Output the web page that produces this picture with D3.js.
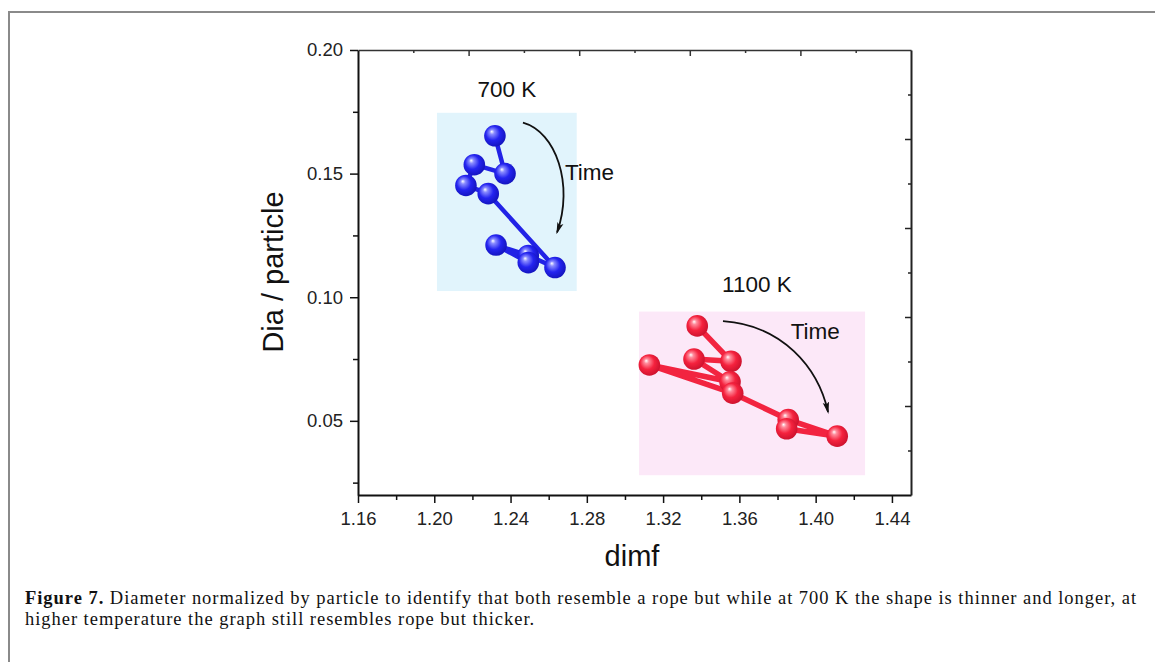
<!DOCTYPE html>
<html>
<head>
<meta charset="utf-8">
<script src="https://cdn.jsdelivr.net/npm/d3@7"></script>
<style>
  body { margin: 0; background: #fff; }
  svg { display: block; }
</style>
</head>
<body>
<div id="chart"></div>
<script>
// dimf vs Dia/particle, two temperatures, points in time order
const blueDimf = [1.2318, 1.2371, 1.2210, 1.2166, 1.2283, 1.2633, 1.2493, 1.2324, 1.2493];
const blueDia  = [0.1653, 0.1500, 0.1536, 0.1452, 0.1419, 0.1120, 0.1169, 0.1211, 0.1140];
const redDimf  = [1.3379, 1.3556, 1.3362, 1.3551, 1.3128, 1.3565, 1.3856, 1.4113, 1.3848];
const redDia   = [0.0884, 0.0741, 0.0750, 0.0658, 0.0726, 0.0612, 0.0505, 0.0438, 0.0468];

const xTicks = [1.16, 1.20, 1.24, 1.28, 1.32, 1.36, 1.40, 1.44];
const xMinor = [1.18, 1.22, 1.26, 1.30, 1.34, 1.38, 1.42];
const yTicks = [0.05, 0.10, 0.15, 0.20];
const yMinor = [0.025, 0.075, 0.125, 0.175];

// shaded boxes [x0, x1, y0, y1]
const blueBox = [1.2014, 1.2747, 0.1025, 0.1746];
const redBox  = [1.3074, 1.4259, 0.0280, 0.0942];

const labels = [
  { t: '700 K',  x: 1.2381, y: 0.1843, anchor: 'middle' },
  { t: '1100 K', x: 1.3692, y: 0.1052, anchor: 'middle' },
  { t: 'Time',   x: 1.2685, y: 0.1508, anchor: 'start' },
  { t: 'Time',   x: 1.3869, y: 0.0864, anchor: 'start' }
];
// curved "Time" arrows: start, ctrl1, ctrl2, end
const arrows = [
  [[1.2465, 0.1706], [1.2638, 0.1669], [1.2733, 0.1456], [1.2644, 0.1262]],
  [[1.3514, 0.0903], [1.3823, 0.0887], [1.4012, 0.0718], [1.4065, 0.0536]]
];

const W = 1155, H = 662;
const SANS = '"Liberation Sans", Arial, sans-serif';
const svg = d3.select('#chart').append('svg').attr('width', W).attr('height', H);

const x = d3.scaleLinear().domain([1.16, 1.45]).range([358, 911]);
const y = d3.scaleLinear().domain([0.02, 0.20]).range([495, 50]);
// frame ticks on top/right aren't tied to the data
const xTop = d3.scaleLinear().domain([0, 5]).range([358, 911]);
const yRight = d3.scaleLinear().domain([0, 5]).range([495, 50]);

// page frame
svg.append('path').attr('d', 'M9,662 V12 H1155')
  .attr('fill', 'none').attr('stroke', '#8a8a8a').attr('stroke-width', 2);

const defs = svg.append('defs');
function ballGrad(id, hi, mid, edge) {
  const g = defs.append('radialGradient').attr('id', id)
    .attr('cx', '45%').attr('cy', '45%').attr('r', '60%').attr('fx', '35%').attr('fy', '30%');
  g.append('stop').attr('offset', '0%').attr('stop-color', '#ffffff');
  g.append('stop').attr('offset', '18%').attr('stop-color', hi);
  g.append('stop').attr('offset', '55%').attr('stop-color', mid);
  g.append('stop').attr('offset', '100%').attr('stop-color', edge);
}
ballGrad('gBlue', '#8a8cff', '#2424f0', '#1212b8');
ballGrad('gRed', '#ff8c9c', '#f5223e', '#c8102c');

defs.append('marker').attr('id', 'arrowHead')
  .attr('viewBox', '0 0 12 8').attr('refX', 10).attr('refY', 4)
  .attr('markerWidth', 12).attr('markerHeight', 8).attr('markerUnits', 'userSpaceOnUse')
  .attr('orient', 'auto')
  .append('path').attr('d', 'M0,0.8 L12,4 L0,7.2 L2.5,4 Z').attr('fill', '#111');

// shaded boxes
[[blueBox, '#e1f4fc'], [redBox, '#fce8f8']].forEach(([b, c]) => {
  svg.append('rect')
    .attr('x', x(b[0])).attr('y', y(b[3]))
    .attr('width', x(b[1]) - x(b[0])).attr('height', y(b[2]) - y(b[3]))
    .attr('fill', c);
});

// axes
const tickFont = g => g.selectAll('text')
  .attr('font-family', SANS).attr('font-size', 18.5).attr('fill', '#222');

svg.append('g').attr('transform', 'translate(0,495)')
  .call(d3.axisBottom(x).tickValues(xMinor).tickSize(5).tickFormat(''))
  .call(g => g.select('.domain').remove())
  .selectAll('line').attr('stroke', '#111').attr('stroke-width', 1.5);
svg.append('g').attr('transform', 'translate(0,495)')
  .call(d3.axisBottom(x).tickValues(xTicks).tickSize(8).tickSizeOuter(0).tickPadding(9)
    .tickFormat(d3.format('.2f')))
  .call(tickFont)
  .call(g => g.select('.domain').attr('stroke', '#111').attr('stroke-width', 2))
  .call(g => g.selectAll('line').attr('stroke', '#111').attr('stroke-width', 1.5));

svg.append('g').attr('transform', 'translate(358,0)')
  .call(d3.axisLeft(y).tickValues(yMinor).tickSize(5).tickFormat(''))
  .call(g => g.select('.domain').remove())
  .selectAll('line').attr('stroke', '#111').attr('stroke-width', 1.5);
svg.append('g').attr('transform', 'translate(358,0)')
  .call(d3.axisLeft(y).tickValues(yTicks).tickSize(8).tickSizeOuter(0).tickPadding(7)
    .tickFormat(d3.format('.2f')))
  .call(tickFont)
  .call(g => g.select('.domain').attr('stroke', '#111').attr('stroke-width', 2))
  .call(g => g.selectAll('line').attr('stroke', '#111').attr('stroke-width', 1.5));

// top and right frame, ticks pointing inward
svg.append('g').attr('transform', 'translate(0,50)')
  .call(d3.axisBottom(xTop).tickValues([1, 2, 3, 4]).tickSize(6).tickSizeOuter(0).tickFormat(''))
  .call(g => g.select('.domain').attr('stroke', '#333').attr('stroke-width', 1.5))
  .call(g => g.selectAll('line').attr('stroke', '#333').attr('stroke-width', 1.5));
svg.append('g').attr('transform', 'translate(0,50)')
  .call(d3.axisBottom(xTop).tickValues([0.5, 1.5, 2.5, 3.5, 4.5]).tickSize(3).tickFormat(''))
  .call(g => g.select('.domain').remove())
  .selectAll('line').attr('stroke', '#333').attr('stroke-width', 1.5);
svg.append('g').attr('transform', 'translate(911,0)')
  .call(d3.axisLeft(yRight).tickValues([1, 2, 3, 4]).tickSize(6).tickSizeOuter(0).tickFormat(''))
  .call(g => g.select('.domain').attr('stroke', '#222').attr('stroke-width', 2))
  .call(g => g.selectAll('line').attr('stroke', '#222').attr('stroke-width', 1.5));
svg.append('g').attr('transform', 'translate(911,0)')
  .call(d3.axisLeft(yRight).tickValues([0.5, 1.5, 2.5, 3.5, 4.5]).tickSize(3).tickFormat(''))
  .call(g => g.select('.domain').remove())
  .selectAll('line').attr('stroke', '#222').attr('stroke-width', 1.5);

// axis titles
svg.append('text').text('dimf')
  .attr('x', 632).attr('y', 566).attr('text-anchor', 'middle')
  .attr('font-family', SANS).attr('font-size', 29).attr('fill', '#111');
svg.append('text').text('Dia / particle')
  .attr('transform', 'translate(283,272) rotate(-90)').attr('text-anchor', 'middle')
  .attr('font-family', SANS).attr('font-size', 29).attr('fill', '#111');

// series: connecting rope + balls
const series = [
  { xs: blueDimf, ys: blueDia, line: '#2222e6', grad: 'gBlue', w: 4.5 },
  { xs: redDimf,  ys: redDia,  line: '#f22440', grad: 'gRed', w: 5.5 }
];
const line = d3.line().x(d => x(d[0])).y(d => y(d[1]));
series.forEach(s => {
  const pts = s.xs.map((v, i) => [v, s.ys[i]]);
  svg.append('path').datum(pts).attr('d', line)
    .attr('fill', 'none').attr('stroke', s.line).attr('stroke-width', s.w)
    .attr('stroke-linejoin', 'round');
  svg.append('g').selectAll('circle').data(pts).join('circle')
    .attr('cx', d => x(d[0])).attr('cy', d => y(d[1])).attr('r', 10.8)
    .attr('fill', `url(#${s.grad})`);
});

// annotations
svg.append('g').selectAll('text').data(labels).join('text')
  .text(d => d.t)
  .attr('x', d => x(d.x)).attr('y', d => y(d.y)).attr('dy', '0.35em')
  .attr('text-anchor', d => d.anchor)
  .attr('font-family', SANS).attr('font-size', 22.5).attr('fill', '#111');

svg.append('g').selectAll('path').data(arrows).join('path')
  .attr('d', d => {
    const p = d.map(q => [x(q[0]), y(q[1])]);
    return `M${p[0]}C${p[1]} ${p[2]} ${p[3]}`;
  })
  .attr('fill', 'none').attr('stroke', '#111').attr('stroke-width', 1.8)
  .attr('marker-end', 'url(#arrowHead)');

// caption, first line stretched to the text block width
const cap = svg.append('g')
  .attr('font-family', '"Liberation Serif", "Times New Roman", serif')
  .attr('font-size', 18.5).attr('fill', '#111');
const l1 = cap.append('text').attr('x', 25).attr('y', 604);
l1.append('tspan').attr('font-weight', 'bold').text('Figure 7.');
l1.append('tspan').text(' Diameter normalized by particle to identify that both resemble a rope but while at 700 K the shape is thinner and longer, at');
const l2 = cap.append('text').attr('x', 25).attr('y', 625)
  .text('higher temperature the graph still resembles rope but thicker.');
const len1 = l1.node().getComputedTextLength();
const ls = Math.max(0, (1112 - len1) / l1.text().length);
l1.attr('letter-spacing', ls);
l2.attr('letter-spacing', ls);
</script>
</body>
</html>
